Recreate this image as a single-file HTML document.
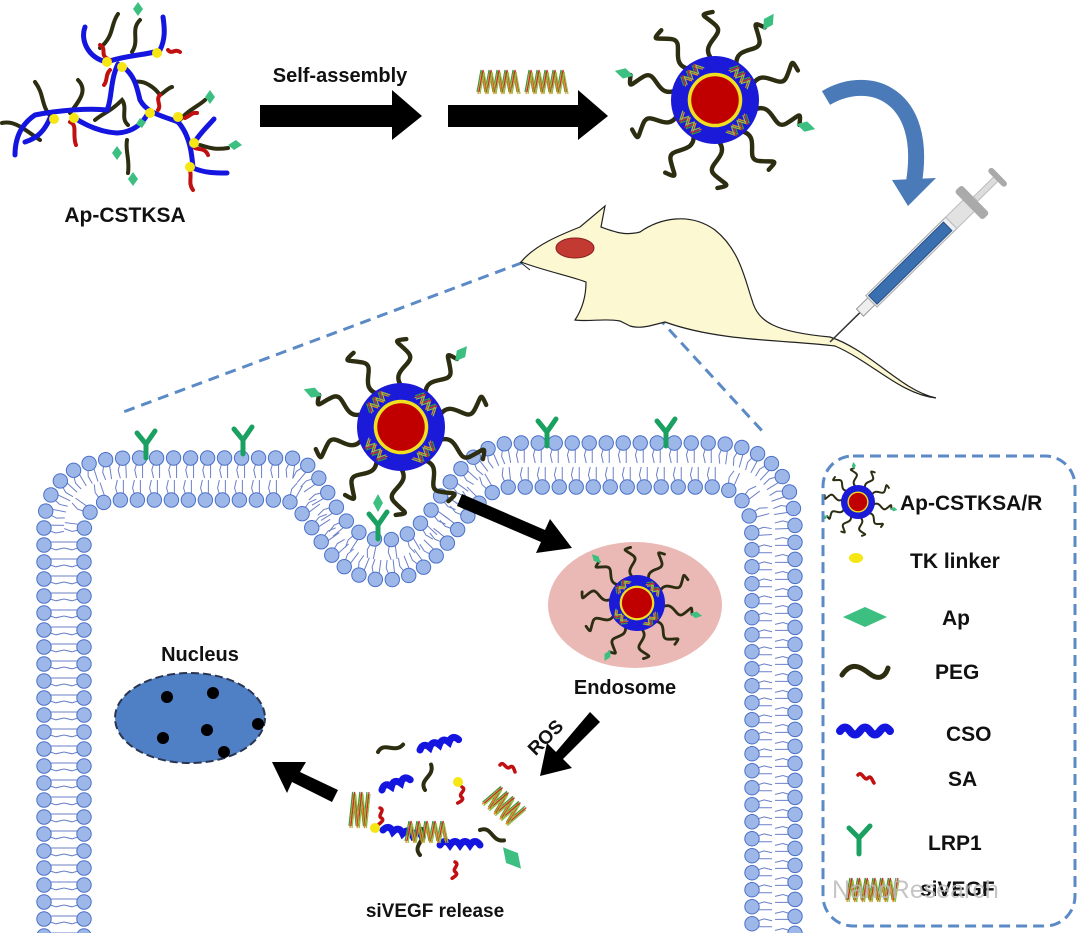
<!DOCTYPE html>
<html><head><meta charset="utf-8"><style>
html,body{margin:0;padding:0;background:#fff;}
svg{display:block;}
text{font-family:"Liberation Sans",Arial,sans-serif;font-weight:bold;fill:#111;}
</style></head><body>
<svg id="s" width="1080" height="933" viewBox="0 0 1080 933" xmlns="http://www.w3.org/2000/svg">
<defs>
<path id="outerP" d="M44,940 L44,530 Q44,458 130,458 L290,458 C330,460 330,540 385,540 C440,540 440,450 510,443 L710,443 Q795,445 795,530 L795,940"/>
<path id="innerP" d="M84,940 L84,535 Q84,500 120,500 L285,500 C312,506 322,580 385,580 C450,580 462,490 510,487 L715,487 Q752,490 752,540 L752,940"/>
</defs>
<g id="mem"></g>
<!-- endosome -->
<ellipse cx="635" cy="605" rx="87" ry="63" fill="#ebb9b5"/>
<g id="rest"></g>

<!-- dashed zoom lines -->
<line x1="556" y1="250" x2="118" y2="414" stroke="#5b8ac6" stroke-width="3" stroke-dasharray="11,7"/>
<line x1="596" y1="250" x2="765" y2="434" stroke="#5b8ac6" stroke-width="3" stroke-dasharray="11,7"/>

<!-- polymer top-left -->
<g fill="none" stroke-linecap="round">
 <g stroke="#2d2d12" stroke-width="4">
  <path d="M118,14 C110,25 115,35 100,48"/>
  <path d="M140,20 C130,30 140,40 132,52"/>
  <path d="M78,80 C88,90 80,100 70,113"/>
  <path d="M35,82 C45,95 40,105 52,118"/>
  <path d="M2,123 C15,120 25,130 40,140"/>
  <path d="M95,120 C105,112 110,112 122,100 C128,108 120,118 128,125"/>
  <path d="M135,82 C145,80 155,88 160,95 C165,92 168,88 172,87"/>
  <path d="M180,120 C188,110 200,105 205,100"/>
  <path d="M127,140 C125,150 130,160 128,173"/>
  <path d="M200,145 C210,148 215,150 228,148"/>
 </g>
 <g stroke="#1515e0" stroke-width="5">
  <path d="M85,27 C80,40 88,58 107,62 C125,55 150,55 160,50 C165,40 165,30 163,17"/>
  <path d="M118,64 C110,80 112,100 107,110 C90,108 60,110 35,115 C20,125 15,140 15,155"/>
  <path d="M50,118 C45,130 38,138 25,142"/>
  <path d="M122,66 C135,75 137,88 140,100 C147,113 160,115 178,122 C190,135 192,155 193,168 C205,173 215,173 227,173"/>
  <path d="M73,117 C85,125 100,132 117,133 C135,132 143,122 147,115"/>
  <path d="M194,143 C200,133 208,126 214,119"/>
 </g>
 <g stroke="#c01010" stroke-width="4">
  <path d="M100,45 C108,50 98,55 110,60"/>
  <path d="M168,50 C172,55 175,48 180,52"/>
  <path d="M110,70 C105,75 108,80 104,85"/>
  <path d="M160,95 C155,100 162,105 158,110"/>
  <path d="M70,122 C78,125 72,135 76,145"/>
  <path d="M185,118 C190,116 192,112 197,113"/>
  <path d="M195,148 C200,150 205,148 208,155"/>
  <path d="M190,170 C192,178 188,183 193,190"/>
 </g>
</g>
<g fill="#f5e614">
 <circle cx="107" cy="62" r="5"/><circle cx="122" cy="67" r="5"/><circle cx="157" cy="53" r="5"/>
 <circle cx="54" cy="119" r="5"/><circle cx="74" cy="118" r="5"/><circle cx="150" cy="113" r="5"/>
 <circle cx="178" cy="117" r="5"/><circle cx="194" cy="143" r="5"/><circle cx="190" cy="167" r="5"/>
</g>
<g fill="#3cbf80">
 <path d="M138,2 l5,7 -5,7 -5,-7z"/><path d="M210,90 l5,7 -5,7 -5,-7z"/>
 <path d="M117,146 l5,7 -5,7 -5,-7z"/><path d="M133,172 l5,7 -5,7 -5,-7z"/>
 <path d="M228,145 l8,-5 6,5 -8,5z"/><path d="M140,118 l6,4 -4,6 -6,-4z"/>
</g>
<text x="125" y="222" font-size="21" text-anchor="middle">Ap-CSTKSA</text>

<!-- top arrows -->
<text x="340" y="82" font-size="20" text-anchor="middle">Self-assembly</text>
<path d="M260,105 L392,105 L392,90 L422,116 L392,140 L392,127 L260,127Z" fill="#000"/>
<path d="M448,105 L578,105 L578,90 L608,116 L578,140 L578,127 L448,127Z" fill="#000"/>

<!-- mouse -->
<path d="M521,262 C535,245 560,235 580,227 L605,206 L601,227 C615,232 625,236 640,232 C660,218 690,212 715,230 C740,250 745,280 752,300 C758,322 775,332 830,337 C870,350 900,390 936,398 C900,394 872,362 835,346 C790,340 720,342 665,322 C650,326 640,329 630,326 L620,321 C605,318 590,322 575,320 C585,305 586,290 586,282 C570,276 545,271 521,262 Z" fill="#fcf8d2" stroke="#222" stroke-width="1.2"/>
<ellipse cx="575" cy="248" rx="19" ry="10" fill="#c23a32" stroke="#8a2020"/>
<line x1="520" y1="262" x2="530" y2="270" stroke="#222" stroke-width="1"/>

<!-- curved arrow -->
<path d="M826,98 C870,72 928,95 914,182" fill="none" stroke="#4a7ab8" stroke-width="16"/>
<path d="M892,180 L936,178 L908,206Z" fill="#4a7ab8"/>

<!-- syringe -->
<g transform="translate(830,342) rotate(-44.5)">
 <line x1="0" y1="0" x2="42" y2="0" stroke="#333" stroke-width="1.5"/>
 <rect x="42" y="-5" width="16" height="10" fill="#eee" stroke="#999"/>
 <rect x="58" y="-8" width="112" height="16" fill="#eef0f5" stroke="#aaa"/>
 <rect x="60" y="-6" width="105" height="12" fill="#3a6fb0" stroke="#2a4f80"/>
 <rect x="170" y="-8" width="26" height="16" fill="#e2e2e2" stroke="#bbb"/>
 <rect x="194" y="-20" width="10" height="40" rx="3" fill="#aaa"/>
 <rect x="204" y="-3" width="30" height="6" fill="#ddd" stroke="#bbb"/>
 <rect x="232" y="-12" width="6" height="24" rx="3" fill="#aaa"/>
</g>

<text x="625" y="694" font-size="20" text-anchor="middle">Endosome</text>

<!-- nucleus -->
<ellipse cx="190" cy="718" rx="75" ry="45" fill="#4f7fc5" stroke="#2a3550" stroke-width="2" stroke-dasharray="8,4"/>
<g fill="#000"><circle cx="167" cy="697" r="6"/><circle cx="213" cy="693" r="6"/><circle cx="258" cy="724" r="6"/><circle cx="207" cy="730" r="6"/><circle cx="163" cy="738" r="6"/><circle cx="224" cy="752" r="6"/></g>
<text x="200" y="661" font-size="20" text-anchor="middle">Nucleus</text>

<!-- arrows inside cell -->
<g fill="#000">
 <path d="M462,494 L545,530 L550,519 L572,548 L536,553 L541,542 L457,506Z"/>
 <path d="M590,712 L600,722 L563,759 L572,768 L540,776 L547,743 L556,752Z"/>
 <path d="M338,790 L332,802 L292,782 L287,793 L272,762 L306,762 L300,772Z"/>
</g>
<text x="0" y="0" font-size="19" transform="translate(550,742) rotate(-45)" text-anchor="middle">ROS</text>
<text x="435" y="917" font-size="19" text-anchor="middle">siVEGF release</text>

<!-- legend box -->
<rect x="823" y="456" width="252" height="470" rx="30" fill="none" stroke="#5b8ac6" stroke-width="3" stroke-dasharray="11,6"/>
<g font-size="21">
 <text x="900" y="510">Ap-CSTKSA/R</text>
 <text x="910" y="568">TK linker</text>
 <text x="942" y="625">Ap</text>
 <text x="935" y="679">PEG</text>
 <text x="946" y="741">CSO</text>
 <text x="948" y="786">SA</text>
 <text x="928" y="850">LRP1</text>
 <text x="920" y="896">siVEGF</text>
</g>
<text x="832" y="898" font-size="25" style="font-weight:normal;fill:#bbb;opacity:0.85">NanoResearch</text>
<ellipse cx="856" cy="558" rx="7" ry="5" fill="#f5e614"/>
<path d="M843,617 L865,607 L887,617 L865,627Z" fill="#3cbf80"/>
<path d="M842,675 C852,660 862,668 870,674 C878,680 885,678 888,668" fill="none" stroke="#2d2d12" stroke-width="5" stroke-linecap="round"/>
<path d="M840,731 q5,-7 10,0 t10,0 t10,0 t10,0 t10,0" fill="none" stroke="#1515e0" stroke-width="8" stroke-linecap="round"/>
<path d="M858,775 C862,770 864,782 868,778 C871,775 872,780 874,783" fill="none" stroke="#c01010" stroke-width="3.5" stroke-linecap="round"/>
<path d="M859,854 L859,838 M859,838 L849,828 M859,838 L870,826" fill="none" stroke="#1aa060" stroke-width="5" stroke-linecap="round"/>
</svg>
<script>
var NS="http://www.w3.org/2000/svg";
function el(parent,tag,attrs){var e=document.createElementNS(NS,tag);for(var k in attrs)e.setAttribute(k,attrs[k]);parent.appendChild(e);return e;}
var mem=document.getElementById('mem'),rest=document.getElementById('rest'),svg=document.getElementById('s');
function layer(id,sign){
 var p=document.getElementById(id),L=p.getTotalLength(),step=17;
 for(var s=4;s<L;s+=step){
  var a=p.getPointAtLength(s),b=p.getPointAtLength(Math.min(L,s+1)),c=p.getPointAtLength(Math.max(0,s-1));
  var dx=b.x-c.x,dy=b.y-c.y,n=Math.hypot(dx,dy)||1;dx/=n;dy/=n;
  var nx=-dy*sign,ny=dx*sign;
  var tx=dx*3,ty=dy*3;
  el(mem,'polyline',{points:(a.x+nx*6-tx)+','+(a.y+ny*6-ty)+' '+(a.x+nx*12-tx*1.6)+','+(a.y+ny*12-ty*1.6)+' '+(a.x+nx*20-tx)+','+(a.y+ny*20-ty),fill:'none',stroke:'#6b7fc8','stroke-width':1});
  el(mem,'polyline',{points:(a.x+nx*6+tx)+','+(a.y+ny*6+ty)+' '+(a.x+nx*20+tx)+','+(a.y+ny*20+ty),fill:'none',stroke:'#6b7fc8','stroke-width':1});
 }
 for(var s=4;s<L;s+=step){var a=p.getPointAtLength(s);el(mem,'circle',{cx:a.x,cy:a.y,r:7.2,fill:'#9db8e8',stroke:'#4a6fc8','stroke-width':1});}
}
layer('outerP',1);layer('innerP',-1);
function Y(x,y,sc){sc=sc||1;el(rest,'path',{d:'M'+x+','+(y+14*sc)+' L'+x+','+y+' L'+(x-9*sc)+','+(y-11*sc)+' M'+x+','+y+' L'+(x+9*sc)+','+(y-13*sc),fill:'none',stroke:'#1aa060','stroke-width':5,'stroke-linecap':'round'});}
Y(146,444);Y(243,440);Y(547,432);Y(666,432);Y(378,525);
function diamond(g,x,y,ang,sz){el(g,'path',{d:'M'+(-sz)+',0 L0,'+(-sz*0.55)+' L'+sz+',0 L0,'+(sz*0.55)+'Z',fill:'#3cbf80',transform:'translate('+x+','+y+') rotate('+ang+')'});}
function sirna(g,x,y,w,h,ang){var gg=el(g,'g',{transform:'translate('+x+','+y+') rotate('+(ang||0)+')'});var cols=['#3a9a3a','#e08a20','#c03030','#8fbf40'];
 for(var k=0;k<4;k++){var pts='';var n=Math.max(4,Math.round(w/4));for(var i=0;i<=n;i++){pts+=(-w/2+i*w/n+k)+','+((i%2?-h/2:h/2)+(k%2?1:-1))+' ';}el(gg,'polyline',{points:pts,fill:'none',stroke:cols[k],'stroke-width':1.2});}}
function np(cx,cy,r,off,dia){
 var g=el(rest,'g',{});
 for(var i=0;i<10;i++){var a=(i*36+off)*Math.PI/180,dx=Math.cos(a),dy=Math.sin(a),px=-dy,py=dx;
  function P(t,q){return (cx+dx*r*t+px*r*q).toFixed(1)+','+(cy+dy*r*t+py*r*q).toFixed(1);}
  el(g,'path',{d:'M'+P(0.9,0)+' C'+P(1.3,-0.35)+' '+P(1.45,0.35)+' '+P(1.7,0.1)+' S'+P(1.95,-0.3)+' '+P(2.0,0.05),fill:'none',stroke:'#2d2d12','stroke-width':Math.max(2,r*0.1),'stroke-linecap':'round'});
  if(dia.indexOf(i)>=0){var e=P(2.15,0.05).split(',');diamond(g,+e[0],+e[1],i*36+off,r*0.22);}
 }
 el(g,'circle',{cx:cx,cy:cy,r:r,fill:'#1a1ad8'});
 if(r>20){for(var j=0;j<4;j++){var a=(j*90+45)*Math.PI/180;sirna(g,cx+Math.cos(a)*r*0.8,cy+Math.sin(a)*r*0.8,r*0.55,r*0.18,j*90+45+90);}}
 el(g,'circle',{cx:cx,cy:cy,r:r*0.62,fill:'#f0e020'});
 el(g,'circle',{cx:cx,cy:cy,r:r*0.54,fill:'#c00000'});
}
np(715,100,44,15,[0,5,8]);
np(401,427,44,20,[5,8]);
np(637,603,28,10,[0,3,6]);
np(858,502,17,10,[0,4,7]);
diamond(rest,378,503,90,9);
sirna(rest,497,82,40,22,0);sirna(rest,545,82,40,22,0);
sirna(rest,871,890,50,22,0);
function wave(x,y,n,ang,col,w){var d='M0,0';for(var i=0;i<n;i++)d+=' q5,-7 10,0';el(rest,'path',{d:d,transform:'translate('+x+','+y+') rotate('+ang+')',fill:'none',stroke:col,'stroke-width':w,'stroke-linecap':'round'});}
wave(420,750,4,-15,'#1515e0',7);wave(382,790,3,-20,'#1515e0',7);wave(440,845,4,0,'#1515e0',7);wave(383,830,4,10,'#1515e0',7);
function peg(x,y,ang){el(rest,'path',{d:'M0,0 C8,-10 16,5 26,-3',transform:'translate('+x+','+y+') rotate('+ang+')',fill:'none',stroke:'#2d2d12','stroke-width':4,'stroke-linecap':'round'});}
peg(378,752,-10);peg(425,790,-70);peg(480,830,30);peg(420,855,-80);
function red(x,y,ang){el(rest,'path',{d:'M0,0 C4,-5 6,6 10,2 C13,0 14,4 15,7',transform:'translate('+x+','+y+') rotate('+ang+')',fill:'none',stroke:'#c01010','stroke-width':3.5,'stroke-linecap':'round'});}
red(462,787,80);red(380,808,70);red(455,862,75);red(500,765,0);
el(rest,'circle',{cx:458,cy:782,r:5,fill:'#f5e614'});el(rest,'circle',{cx:375,cy:828,r:5,fill:'#f5e614'});
sirna(rest,358,810,18,34,0);sirna(rest,425,832,40,20,0);sirna(rest,503,805,35,24,40);
diamond(rest,512,858,50,14);
</script>
</body></html>
